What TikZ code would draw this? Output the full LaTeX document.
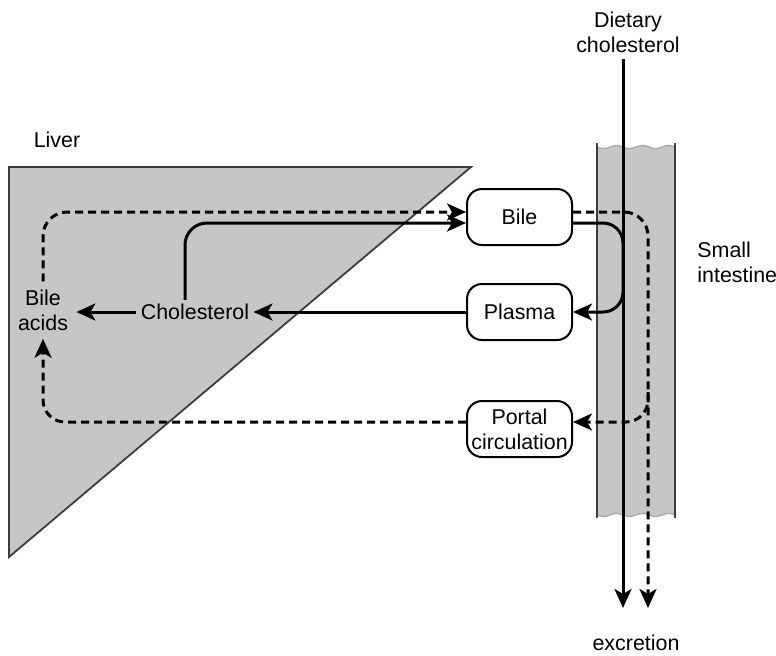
\documentclass[tikz,border=0pt]{standalone}
\usepackage{fontspec}
\setmainfont{Liberation Sans}
\usetikzlibrary{arrows.meta}
\definecolor{organ}{RGB}{198,198,198}
\definecolor{edgegray}{RGB}{60,60,60}
\begin{document}
\begin{tikzpicture}[x=0.5pt,y=-0.5pt,
  lbl/.style={font=\fontsize{10.7pt}{12.5pt}\selectfont, align=center, inner sep=2pt},
  box/.style={lbl, draw, fill=white, line width=1pt, rounded corners=7.5pt,
              minimum width=52.5pt, minimum height=28pt, inner sep=1pt},
  conn/.style={line width=1.5pt, -{Stealth[length=9.5pt,width=8.5pt,inset=2.5pt]}},
  dsh/.style={conn, dash pattern=on 4pt off 2.5pt}]
\useasboundingbox (0,0) rectangle (776,655);

% liver
\filldraw[fill=organ, draw=edgegray, line width=0.9pt] (9,167) -- (471,167) -- (9,557) -- cycle;

% small intestine
\fill[organ] plot[domain=597:675, samples=60] (\x, {147+1.5*sin((\x-597)/26*360)})
  -- plot[domain=675:597, samples=60] (\x, {515+1.5*sin((\x-597)/26*360)}) -- cycle;
\draw[gray!70, line width=0.6pt] plot[domain=597:675, samples=60] (\x, {147+1.5*sin((\x-597)/26*360)});
\draw[gray!70, line width=0.6pt] plot[domain=597:675, samples=60] (\x, {515+1.5*sin((\x-597)/26*360)});
\draw[edgegray, line width=1pt] (597,143) -- (597,518);
\draw[edgegray, line width=1pt] (675,143) -- (675,518);

% labels
\node[lbl] (liver) at (57,140) {Liver};
\node[lbl] (diet) at (628,32) {Dietary\\cholesterol};
\node[lbl, align=left, anchor=west] (si) at (693,262) {Small\\intestine};
\node[lbl] (excr) at (636,643) {excretion};

% nodes
\node[lbl, inner sep=4pt] (ba) at (43,310) {Bile\\acids};
\node[lbl] (chol) at (195,312) {Cholesterol};
\node[box] (bile) at (519.5,217) {Bile};
\node[box] (plasma) at (519.5,312) {Plasma};
\node[box] (portal) at (519.5,429) {Portal\\circulation};

\coordinate (dtop) at (623,59);
\coordinate (dend) at (623,608);
\coordinate (bend) at (648,608);
\coordinate (br) at (648,392);

% connectors
\draw[conn] (dtop) -- (dend);
\draw[dsh, rounded corners=12pt] ([yshift=2.5pt]bile.east) -| (bend);
\draw[dsh, rounded corners=11pt] (br) |- ([yshift=3.5pt]portal.east);
\draw[conn, rounded corners=10pt] ([yshift=-3pt]bile.east) -| (dtop |- plasma.east) -- (plasma.east);
\draw[dsh, rounded corners=12pt] (ba.north) |- ([yshift=2.5pt]bile.west);
\draw[conn, rounded corners=11pt] (chol.north -| 185,0) |- ([yshift=-3pt]bile.west);
\draw[conn] (chol.west) -- (ba.east |- chol.west);
\draw[conn] (plasma.west) -- (chol.east);
\draw[dsh, rounded corners=11pt] ([yshift=3.5pt]portal.west) -| (ba.south);
\end{tikzpicture}
\end{document}
